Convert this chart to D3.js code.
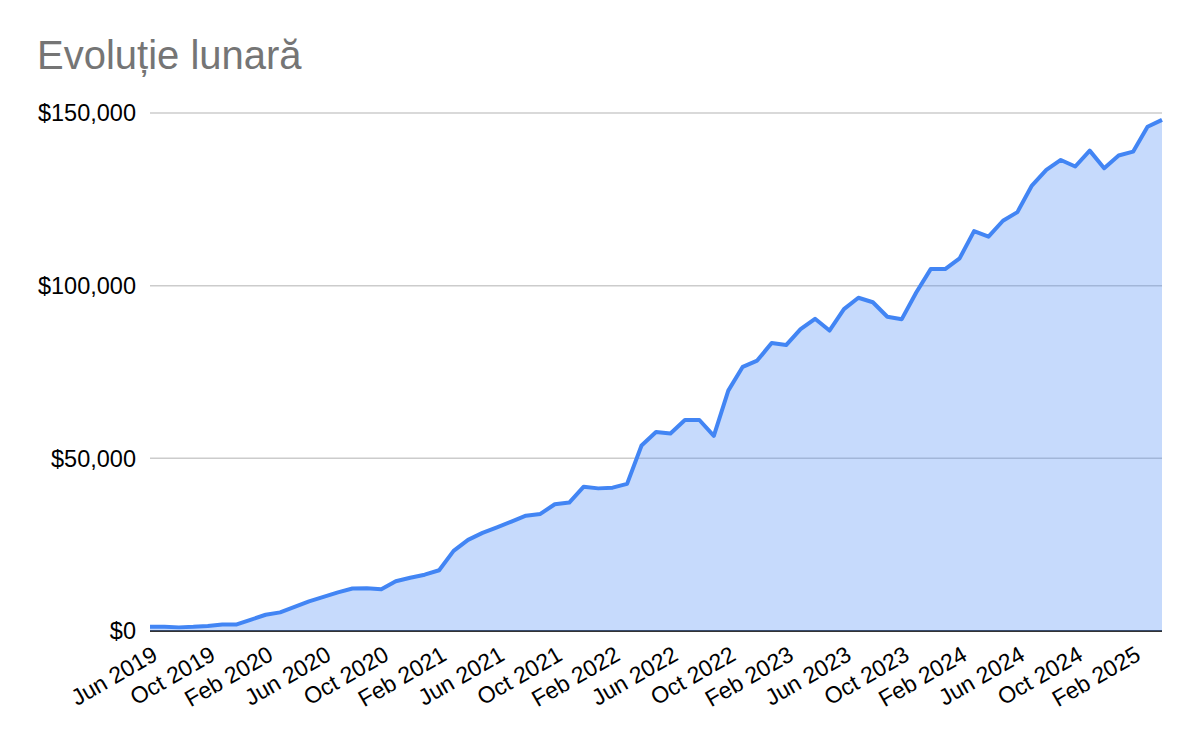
<!DOCTYPE html>
<html lang="ro">
<head>
<meta charset="UTF-8">
<title>Evoluție lunară</title>
<style>
  body { margin: 0; background: #fff; }
  svg { display: block; font-family: "Liberation Sans", Arial, sans-serif; }
</style>
</head>
<body>
<svg id="chart"></svg>
<script src="https://cdn.jsdelivr.net/npm/d3@7"></script>
<script>
// monthly totals, Jun 2019 .. Apr 2025
const firstMonth = new Date(2019, 5, 1);
const lastMonth = new Date(2025, 3, 1);
const values = [
  1200, 1200, 1050, 1200, 1450, 1850, 1900, 3300, 4700, 5400, 7000, 8600,
  9900, 11200, 12300, 12400, 12100, 14400, 15400, 16300, 17600, 23200, 26400, 28400,
  30000, 31700, 33400, 33900, 36700, 37200, 41800, 41300, 41500, 42600, 53700, 57600,
  57200, 61100, 61100, 56500, 69600, 76500, 78300, 83400, 82800, 87400, 90400, 87000,
  93200, 96500, 95200, 91000, 90300, 98000, 104800, 104800, 107900, 115800, 114200, 118800,
  121300, 129000, 133500, 136400, 134500, 139100, 134000, 137700, 138800, 146000, 148000
];
const xTickLabels = [
  "Jun 2019", "Oct 2019", "Feb 2020", "Jun 2020", "Oct 2020", "Feb 2021",
  "Jun 2021", "Oct 2021", "Feb 2022", "Jun 2022", "Oct 2022", "Feb 2023",
  "Jun 2023", "Oct 2023", "Feb 2024", "Jun 2024", "Oct 2024", "Feb 2025"
];
const yTicks = [0, 50000, 100000, 150000];

const width = 1200, height = 742;
const margin = {top: 113, right: 38, bottom: 111, left: 150};

const months = d3.timeMonth.range(firstMonth, d3.timeMonth.offset(lastMonth, 1));
const data = months.map((m, i) => ({date: m, value: values[i]}));

const svg = d3.select("#chart")
  .attr("width", width)
  .attr("height", height);

const x = d3.scalePoint()
  .domain(d3.range(months.length))
  .range([margin.left, width - margin.right]);

const y = d3.scaleLinear()
  .domain([0, 150000])
  .range([height - margin.bottom, margin.top]);

// title
svg.append("text")
  .attr("x", 37)
  .attr("y", 69)
  .attr("fill", "#757575")
  .attr("font-size", 40)
  .text("Evoluție lunară");

// gridlines
svg.append("g")
  .selectAll("line")
  .data(yTicks.filter(d => d > 0))
  .join("line")
  .attr("x1", margin.left)
  .attr("x2", width - margin.right)
  .attr("y1", d => y(d))
  .attr("y2", d => y(d))
  .attr("stroke", "#cccccc")
  .attr("stroke-width", 1.5);

// baseline
svg.append("line")
  .attr("x1", margin.left)
  .attr("x2", width - margin.right)
  .attr("y1", y(0))
  .attr("y2", y(0))
  .attr("stroke", "#333333")
  .attr("stroke-width", 2);

// y labels
const fmt = d3.format("$,");
svg.append("g")
  .selectAll("text")
  .data(yTicks)
  .join("text")
  .attr("x", 136)
  .attr("y", d => y(d))
  .attr("dy", "0.35em")
  .attr("text-anchor", "end")
  .attr("font-size", 23.5)
  .attr("fill", "#000")
  .text(d => fmt(d));

// area + line
const area = d3.area()
  .x((d, i) => x(i))
  .y0(y(0))
  .y1(d => y(d.value));

const line = d3.line()
  .x((d, i) => x(i))
  .y(d => y(d.value));

svg.append("path")
  .datum(data)
  .attr("d", area)
  .attr("fill", "#4285f4")
  .attr("fill-opacity", 0.3);

svg.append("path")
  .datum(data)
  .attr("d", line)
  .attr("fill", "none")
  .attr("stroke", "#4285f4")
  .attr("stroke-width", 4)
  .attr("stroke-linejoin", "round");

// x labels, rotated
const parseMonth = d3.timeParse("%b %Y");
const monthIndex = lbl => {
  const d = parseMonth(lbl);
  return months.findIndex(m => m.getFullYear() === d.getFullYear() && m.getMonth() === d.getMonth());
};

svg.append("g")
  .selectAll("text")
  .data(xTickLabels)
  .join("text")
  .attr("transform", d => `translate(${x(monthIndex(d)) + 9},${y(0) + 28}) rotate(-30)`)
  .attr("text-anchor", "end")
  .attr("font-size", 23)
  .attr("fill", "#000")
  .text(d => d);
</script>
</body>
</html>
